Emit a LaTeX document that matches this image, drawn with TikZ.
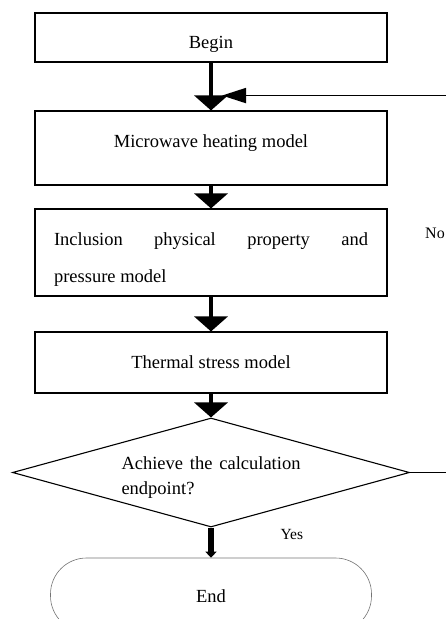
\documentclass[tikz,border=0pt]{standalone}
\usepackage{fontspec}
\setmainfont{Liberation Serif}
\usetikzlibrary{shapes.geometric, arrows.meta, positioning}
\tikzstyle{startstop} = [rectangle, minimum width=352pt, minimum height=49pt, text centered, draw=black, line width=1.1pt]
\tikzstyle{process} = [rectangle, minimum width=352pt, text centered, draw=black, line width=1.1pt]
\tikzstyle{decision} = [diamond, aspect=3.6, minimum width=397pt, minimum height=109pt, inner sep=0pt, draw=black, line width=1.1pt]
\tikzstyle{terminal} = [rectangle, rounded corners=36pt, minimum width=321pt, minimum height=74pt, text centered, draw=black!55, line width=0.6pt]
\tikzstyle{arrow} = [line width=4.5pt, -{Triangle[length=15pt, width=33pt]}]
\tikzstyle{backarrow} = [line width=1.8pt, -{Triangle[length=24pt, width=15pt]}]
\tikzstyle{yesarrow} = [line width=6pt, -{Triangle[length=6pt, width=11pt]}]

\begin{document}
\begin{tikzpicture}[x=1pt, y=1pt, node distance=110pt, font=\fontsize{18.5}{22}\selectfont]
				\useasboundingbox (0,0) rectangle (446,-619);
				\clip (0,0) rectangle (446,-619);
				
				% Nodes of the main chain
				\node (begin) [startstop, text height=24pt, text depth=3pt] at (211,-37.5) {Begin};
				\node (micro) [process, below of=begin, yshift=-0.5pt, minimum height=74pt, text depth=14pt] {Microwave heating model};
				\node (inclusion) [process, below of=micro, yshift=5.5pt, minimum height=87pt, text width=314pt, inner xsep=19pt, align=justify, text depth=26pt, font=\fontsize{18.5}{37}\selectfont] {Inclusion physical property and\linebreak pressure model};
				\node (thermal) [process, below of=inclusion, minimum height=61pt] {Thermal stress model};
				\node (decide) [decision, below of=thermal, text width=179pt, align=justify, text depth=19pt, font=\fontsize{18.5}{25}\selectfont] {Achieve the calculation\linebreak endpoint?};
				\node (stop) [terminal, below of=decide, yshift=-12.5pt, text height=17pt, text depth=3pt] {End};
				
				% Point where the loop comes back
				\coordinate (join) at ([xshift=11pt, yshift=-33pt]begin.south);
				
				% Arrows of the main chain
				\draw [arrow] (begin) -- (micro);
				\draw [arrow] (micro) -- (inclusion);
				\draw [arrow] (inclusion) -- (thermal);
				\draw [arrow] (thermal) -- (decide);
				\draw [yesarrow] (decide) -- (stop);
				
				% Loop back
				\draw [backarrow] (decide.east) -- ++(60,0) |- (join);
				
				% Labels
				\node (nolabel) [anchor=base west, inner sep=1pt, font=\fontsize{16}{20}\selectfont] at (424,-238) {No};
				\node (yeslabel) [anchor=base west, font=\fontsize{15.5}{18}\selectfont] at (277,-539) {Yes};
				
\end{tikzpicture}
\end{document}
